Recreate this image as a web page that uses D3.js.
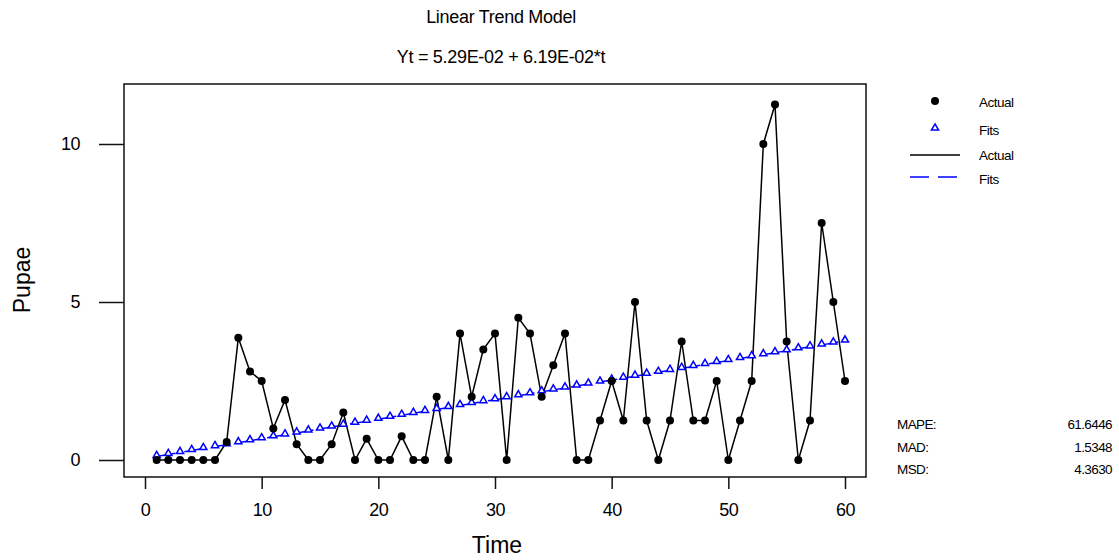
<!DOCTYPE html>
<html>
<head>
<meta charset="utf-8">
<script src="https://cdn.jsdelivr.net/npm/d3@7"></script>
<style>
  body { margin: 0; background: #fff; }
  text { font-family: 'Liberation Sans', Arial, sans-serif; fill: #000; }
</style>
</head>
<body>
<div id="plot_area"></div>
<script>
// Set SVG width and height
const w = 1119;
const h = 560;

// Time index and observed pupae counts
const time = d3.range(1, 61);
const actual = [
  0, 0, 0, 0, 0, 0, 0.57, 3.87, 2.8, 2.5,
  1.0, 1.9, 0.5, 0, 0, 0.5, 1.5, 0, 0.67, 0,
  0, 0.75, 0, 0, 2.0, 0, 4.0, 2.0, 3.5, 4.0,
  0, 4.5, 4.0, 2.0, 3.0, 4.0, 0, 0, 1.25, 2.5,
  1.25, 5.0, 1.25, 0, 1.25, 3.75, 1.25, 1.25, 2.5, 0,
  1.25, 2.5, 10.0, 11.25, 3.75, 0, 1.25, 7.5, 5.0, 2.5
];
// Fitted trend values
const fits = [
  0.115, 0.177, 0.239, 0.300, 0.362, 0.424, 0.486, 0.548, 0.610, 0.672,
  0.734, 0.796, 0.858, 0.920, 0.981, 1.043, 1.105, 1.167, 1.229, 1.291,
  1.353, 1.415, 1.477, 1.539, 1.600, 1.662, 1.724, 1.786, 1.848, 1.910,
  1.972, 2.034, 2.096, 2.158, 2.219, 2.281, 2.343, 2.405, 2.467, 2.529,
  2.591, 2.653, 2.715, 2.777, 2.838, 2.900, 2.962, 3.024, 3.086, 3.148,
  3.210, 3.272, 3.334, 3.396, 3.457, 3.519, 3.581, 3.643, 3.705, 3.767
];

const xTicks = [0, 10, 20, 30, 40, 50, 60];
const yTicks = [0, 5, 10];

const legendLabels = ['Actual', 'Fits', 'Actual', 'Fits'];
const statNames = ['MAPE:', 'MAD:', 'MSD:'];
const statValues = ['61.6446', '1.5348', '4.3630'];

const titleText = 'Linear Trend Model';
const subtitleText = 'Yt = 5.29E-02 + 6.19E-02*t';

// Plot frame
const frame = { left: 124, right: 866, top: 84, bottom: 477 };

const xScale = d3.scaleLinear()
                .domain([0, 60])
                .range([145, 845]);

const yScale = d3.scaleLinear()
                .domain([0, 10])
                .range([460, 144]);

const svg = d3.select('#plot_area')
          .append('svg')
          .attr('width', w)
          .attr('height', h);

// Titles
svg.append('text')
  .attr('x', 501).attr('y', 23)
  .attr('text-anchor', 'middle')
  .style('font-size', '18px')
  .style('letter-spacing', '-0.3px')
  .text(titleText);

svg.append('text')
  .attr('x', 501).attr('y', 63)
  .attr('text-anchor', 'middle')
  .style('font-size', '18px')
  .style('letter-spacing', '-0.3px')
  .text(subtitleText);

// Frame
svg.append('rect')
  .attr('x', frame.left).attr('y', frame.top)
  .attr('width', frame.right - frame.left)
  .attr('height', frame.bottom - frame.top)
  .attr('fill', 'none')
  .attr('stroke', '#111')
  .attr('stroke-width', 1.5);

// Add x-axis
const xAxis = svg.append('g')
  .attr('transform', 'translate(0,' + frame.bottom + ')')
  .call(d3.axisBottom(xScale).tickValues(xTicks).tickSize(12).tickPadding(14).tickSizeOuter(0));
xAxis.select('.domain').remove();
xAxis.selectAll('line').attr('stroke', '#111').attr('stroke-width', 1.5);
xAxis.selectAll('text').style('font-size', '18px').style('letter-spacing', '-0.5px').attr('fill', '#000');

// Add y-axis
const yAxis = svg.append('g')
  .attr('transform', 'translate(' + frame.left + ',0)')
  .call(d3.axisLeft(yScale).tickValues(yTicks).tickSize(25).tickPadding(19).tickSizeOuter(0));
yAxis.select('.domain').remove();
yAxis.selectAll('line').attr('stroke', '#111').attr('stroke-width', 1.5);
yAxis.selectAll('text').style('font-size', '18px').style('letter-spacing', '-0.5px').attr('fill', '#000');

// Axis titles
svg.append('text')
  .attr('x', 497).attr('y', 553)
  .attr('text-anchor', 'middle')
  .style('font-size', '23px')
  .text('Time');

svg.append('text')
  .attr('transform', 'translate(30,280) rotate(-90)')
  .attr('text-anchor', 'middle')
  .style('font-size', '23px')
  .text('Pupae');

// Fits line and markers
const fitData = time.map((t, i) => [t, fits[i]]);
const actData = time.map((t, i) => [t, actual[i]]);

svg.append('path')
  .datum(fitData)
  .attr('stroke', '#0000ff')
  .attr('stroke-width', 1.5)
  .attr('stroke-dasharray', '19,9')
  .attr('fill', 'none')
  .attr('d', d3.line()
              .x((d) => xScale(d[0]))
              .y((d) => yScale(d[1])));

// Actual line
svg.append('path')
  .datum(actData)
  .attr('stroke', 'black')
  .attr('stroke-width', 1.5)
  .attr('fill', 'none')
  .attr('d', d3.line()
              .x((d) => xScale(d[0]))
              .y((d) => yScale(d[1])));

const tri = d3.symbol().type(d3.symbolTriangle).size(22);

svg.append('g')
  .selectAll('path')
  .data(fitData)
  .join('path')
  .attr('transform', (d) => 'translate(' + xScale(d[0]) + ',' + (yScale(d[1]) - 1) + ')')
  .attr('d', tri)
  .attr('fill', 'white')
  .attr('stroke', '#0000ff')
  .attr('stroke-width', 1.5);

svg.append('g')
  .selectAll('circle')
  .data(actData)
  .join('circle')
  .attr('cx', (d) => xScale(d[0]))
  .attr('cy', (d) => yScale(d[1]))
  .attr('r', 4)
  .attr('fill', 'black');

// Legend
const legend = svg.append('g');
legend.append('circle').attr('cx', 935).attr('cy', 101).attr('r', 4).attr('fill', 'black');
legend.append('path')
  .attr('transform', 'translate(935,128)')
  .attr('d', tri)
  .attr('fill', 'white')
  .attr('stroke', '#0000ff')
  .attr('stroke-width', 1.5);
legend.append('line')
  .attr('x1', 910).attr('x2', 960).attr('y1', 155).attr('y2', 155)
  .attr('stroke', 'black').attr('stroke-width', 1.5);
legend.append('line')
  .attr('x1', 910).attr('x2', 960).attr('y1', 177).attr('y2', 177)
  .attr('stroke', '#0000ff').attr('stroke-width', 1.5)
  .attr('stroke-dasharray', '19,9');

const legendY = [102, 130, 155, 179];
legend.selectAll('text.lab')
  .data(legendLabels)
  .join('text')
  .attr('class', 'lab')
  .attr('x', 979)
  .attr('y', (d, i) => legendY[i])
  .attr('dy', '0.35em')
  .style('font-size', '13.5px')
  .style('letter-spacing', '-0.5px')
  .text((d) => d);

// Accuracy measures
const statY = [424, 447, 469];
svg.selectAll('text.sname')
  .data(statNames)
  .join('text')
  .attr('class', 'sname')
  .attr('x', 897)
  .attr('y', (d, i) => statY[i])
  .attr('dy', '0.35em')
  .style('font-size', '13.5px')
  .style('letter-spacing', '-0.6px')
  .text((d) => d);

svg.selectAll('text.sval')
  .data(statValues)
  .join('text')
  .attr('class', 'sval')
  .attr('x', 1112)
  .attr('y', (d, i) => statY[i])
  .attr('dy', '0.35em')
  .attr('text-anchor', 'end')
  .style('font-size', '13.5px')
  .style('letter-spacing', '-0.6px')
  .text((d) => d);
</script>
</body>
</html>
